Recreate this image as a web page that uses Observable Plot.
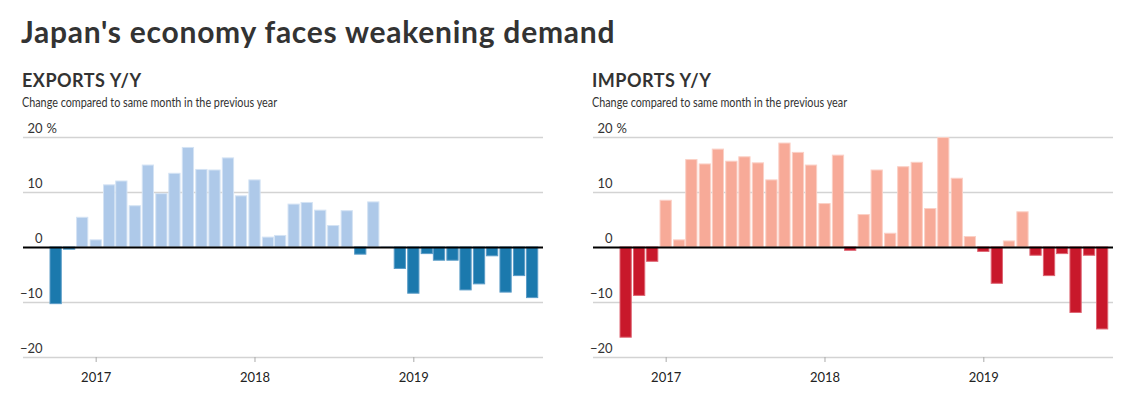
<!DOCTYPE html>
<html><head><meta charset="utf-8">
<script src="https://cdn.jsdelivr.net/npm/d3@7"></script>
<script src="https://cdn.jsdelivr.net/npm/@observablehq/plot@0.6"></script>
<style>
body{margin:0;background:#fff;font-family:Lato,sans-serif;color:#333;width:1138px;height:404px;position:relative;overflow:hidden}
.t{position:absolute;white-space:nowrap}
#title{left:21px;top:16px;font-size:30px;line-height:30px;font-weight:700;letter-spacing:0.75px;color:#333}
.h{font-size:18px;line-height:18px;font-weight:700;top:71px;letter-spacing:0.5px;color:#333}
.s{font-size:13.5px;line-height:13px;top:96px;color:#333;transform:scaleX(0.8);transform-origin:0 0}
.chart{position:absolute;top:117px}
</style></head><body>
<div id="title" class="t">Japan's economy faces weakening demand</div>
<div class="t h" style="left:22px">EXPORTS Y/Y</div>
<div class="t s" style="left:22px">Change compared to same month in the previous year</div>
<div class="t h" style="left:592px">IMPORTS Y/Y</div>
<div class="t s" style="left:592px">Change compared to same month in the previous year</div>
<div id="exp" class="chart" style="left:23px"></div>
<div id="imp" class="chart" style="left:593px"></div>
<script>
const months = ["2016-10","2016-11","2016-12",
  "2017-01","2017-02","2017-03","2017-04","2017-05","2017-06","2017-07","2017-08","2017-09","2017-10","2017-11","2017-12",
  "2018-01","2018-02","2018-03","2018-04","2018-05","2018-06","2018-07","2018-08","2018-09","2018-10","2018-11","2018-12",
  "2019-01","2019-02","2019-03","2019-04","2019-05","2019-06","2019-07","2019-08","2019-09","2019-10"];
const exportsYoY = [-10.3,-0.4,5.4,
  1.3,11.3,12.0,7.5,14.9,9.7,13.4,18.1,14.1,14.0,16.2,9.3,
  12.2,1.8,2.1,7.8,8.1,6.7,3.9,6.6,-1.3,8.2,0.1,-3.9,
  -8.4,-1.2,-2.4,-2.4,-7.8,-6.7,-1.6,-8.2,-5.2,-9.2];
const importsYoY = [-16.4,-8.8,-2.6,
  8.5,1.3,15.9,15.1,17.8,15.6,16.4,15.3,12.2,18.9,17.2,14.9,
  7.9,16.7,-0.6,5.9,14.0,2.5,14.6,15.4,7.0,19.9,12.5,1.9,
  -0.8,-6.6,1.1,6.4,-1.5,-5.2,-1.2,-11.9,-1.5,-14.9];
const yTicks = [-20,-10,0,10,20];
const xDomainDates = ["2016-07-18","2019-10-26"];

const xDomain = xDomainDates.map(s => new Date(s + "T00:00:00Z"));

function panel(values, pos, neg, edgePos, edgeNeg) {
  const data = months.map((m, i) => ({date: new Date(m + "-01T00:00:00Z"), value: values[i]}));
  const barOpts = (filter, fill, edge) => ({
    filter,
    x1: d => d3.utcDay.offset(d.date, -15),
    x2: d => d3.utcDay.offset(d.date, 15),
    y1: 0, y2: "value",
    fill, stroke: edge, strokeWidth: 1, insetLeft: 0.9, insetRight: 0.9
  });
  return Plot.plot({
    width: 520, height: 280,
    marginLeft: 0, marginRight: 0, marginTop: 20, marginBottom: 40,
    style: {fontFamily: "Lato, sans-serif", fontSize: "13px", color: "#333", background: "transparent", overflow: "visible"},
    x: {type: "utc", domain: xDomain},
    y: {domain: [-20, 20]},
    marks: [
      Plot.ruleY(yTicks.filter(d => d !== 0), {stroke: "#d3d3d3", strokeWidth: 1.4}),
      Plot.rectY(data, barOpts(d => d.value >= 0, pos, edgePos)),
      Plot.rectY(data, barOpts(d => d.value < 0, neg, edgeNeg)),
      Plot.ruleY([0], {stroke: "#000", strokeWidth: 2}),
      Plot.axisY(yTicks, {anchor: "left", tickSize: 0, tickPadding: -19, dy: -9, textAnchor: "end", fill: "#333", label: null}),
      Plot.text([yTicks[yTicks.length - 1]], {y: d => d, text: () => "%", frameAnchor: "left", dx: 23, dy: -9, textAnchor: "start", fill: "#333"}),
      Plot.axisX({ticks: "year", tickFormat: "%Y", tickSize: 5, tickPadding: 10, stroke: "#aaa", fill: "#222", label: null})
    ]
  });
}
document.getElementById("exp").append(panel(exportsYoY, "#aec9e9", "#1b79ad", "#d4e3f4", "#5b9cc7"));
document.getElementById("imp").append(panel(importsYoY, "#f7aa98", "#c8182b", "#fbd0c6", "#de6573"));
</script>
</body></html>
